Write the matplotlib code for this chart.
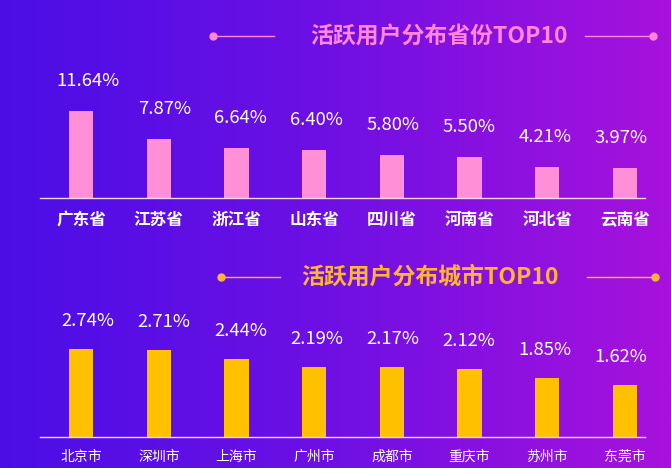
import numpy as np
import matplotlib.pyplot as plt
from matplotlib.colors import LinearSegmentedColormap

plt.rcParams['font.family'] = ['Noto Sans CJK SC', 'DejaVu Sans']

provinces = ['广东省', '江苏省', '浙江省', '山东省', '四川省', '河南省', '河北省', '云南省']
province_share = [11.64, 7.87, 6.64, 6.40, 5.80, 5.50, 4.21, 3.97]

cities = ['北京市', '深圳市', '上海市', '广州市', '成都市', '重庆市', '苏州市', '东莞市']
city_share = [2.74, 2.71, 2.44, 2.19, 2.17, 2.12, 1.85, 1.62]

W, H = 671, 468
fig = plt.figure(figsize=(W / 100, H / 100), dpi=100)

# background gradient, pixel coordinates
bg = fig.add_axes([0, 0, 1, 1])
cmap = LinearSegmentedColormap.from_list('bg', ['#4a0ee6', '#6f10e4', '#a812dc'])
grad = np.linspace(0, 1, 256).reshape(1, -1)
bg.imshow(grad, cmap=cmap, aspect='auto', extent=[0, W, H, 0])
bg.set_xlim(0, W)
bg.set_ylim(H, 0)
bg.axis('off')


def title(text, color, y, x_center, left, right):
    bg.text(x_center, y, text, color=color, fontsize=16.5, fontweight='bold',
            ha='center', va='center')
    bg.plot(left, [y, y], color=color, lw=1)
    bg.plot(right, [y, y], color=color, lw=1)
    bg.plot([left[0], right[1]], [y, y], 'o', color=color, ms=5, lw=0)


title('活跃用户分布省份TOP10', '#ff86dc', 36, 439, [213, 274], [585, 653])
title('活跃用户分布城市TOP10', '#ffb52e', 277, 430, [221, 280], [587, 655])


def bar_panel(top_px, base_px, px_per_unit, labels, values, color, offset_px,
              tick_size, tick_weight):
    ax = fig.add_axes([40 / W, (H - base_px) / H, 605 / W, (base_px - top_px) / H])
    ax.patch.set_alpha(0)
    x = np.arange(len(values))
    ax.bar(x, values, width=0.31, color=color)
    ax.set_xlim(-0.53, 7.26)
    ax.set_ylim(0, (base_px - top_px) / px_per_unit)
    # value labels sit on a slightly tighter spacing than the bars
    for xi, v in zip(x, values):
        dx = (7 - 1.5 * xi) * 0.72
        ax.annotate(f'{v:.2f}%', (xi, v), xytext=(dx, offset_px * 0.72),
                    textcoords='offset points', ha='center', va='center',
                    color='white', fontsize=13.3)
    for s in ['top', 'right', 'left']:
        ax.spines[s].set_visible(False)
    ax.spines['bottom'].set_color('#f2d6f2')
    ax.spines['bottom'].set_linewidth(1)
    ax.set_yticks([])
    ax.set_xticks(x)
    ax.set_xticklabels(labels, color='white', fontsize=tick_size,
                       fontweight=tick_weight)
    ax.tick_params(axis='x', length=0, pad=9)
    return ax


bar_panel(60, 198, 87 / 11.64, provinces, province_share, '#ff8fd6', 30, 12, 'bold')
bar_panel(300, 437, 88 / 2.74, cities, city_share, '#ffc000', 28, 10, 'light')

fig.savefig('out.png', dpi=100)
